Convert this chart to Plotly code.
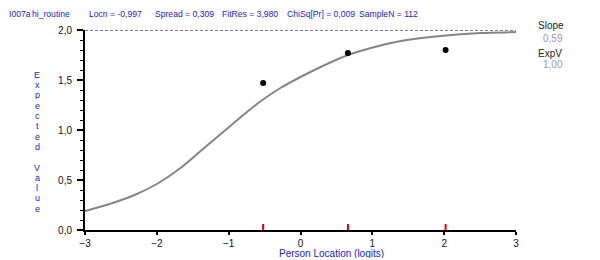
import plotly.graph_objects as go

# ---- data ----
curve_x = [-3.0, -2.66, -2.31, -2.0, -1.67, -1.39, -1.11, -0.83, -0.55, -0.28,
           0.0, 0.28, 0.66, 0.98, 1.40, 1.95, 2.51, 3.0]
curve_y = [0.19, 0.26, 0.35, 0.46, 0.62, 0.79, 0.96, 1.13, 1.29, 1.42,
           1.53, 1.63, 1.75, 1.82, 1.89, 1.94, 1.97, 1.98]
obs_x = [-0.52, 0.66, 2.02]
obs_y = [1.47, 1.77, 1.80]
x_ticks = [-3, -2, -1, 0, 1, 2, 3]
y_ticks = [0.0, 0.5, 1.0, 1.5, 2.0]
max_score = 2.0
header_parts = ["I007a", "hi_routine", "Locn = -0,997", "Spread = 0,309",
                "FitRes = 3,980", "ChiSq[Pr] = 0,009", "SampleN = 112"]
header_px = [8, 31, 88, 154, 221, 286, 358]
side_labels = ["Slope", "0,59", "ExpV", "1,00"]

# page geometry (pixels); the page body adds an 8px offset
OFF = 8
W, H = 600 - OFF, 260 - OFF
PL, PR, PT, PB = 85, 516, 30, 230          # plot area on the page
L, T = PL - OFF, PT - OFF
R, B = W - (PR - OFF), H - (PB - OFF)
pw, ph = W - L - R, H - T - B

def px_x(p):
    return (p - PL) / pw

def px_y(p):
    return (PB - p) / ph

BLUE = "#2323C8"
FONT = "Liberation Sans, Arial"

fig = go.Figure()

# expected value curve
fig.add_trace(go.Scatter(x=curve_x, y=curve_y, mode="lines",
                         line=dict(color="#858585", width=2, shape="spline", smoothing=0.6),
                         hoverinfo="skip", showlegend=False))

# observed means
fig.add_trace(go.Scatter(x=obs_x, y=obs_y, mode="markers",
                         marker=dict(color="black", size=6),
                         showlegend=False))

# red tick markers at class-interval locations
rx, ry = [], []
for xv in obs_x:
    rx += [xv, xv, None]
    ry += [0, 0.06, None]
fig.add_trace(go.Scatter(x=rx, y=ry, mode="lines",
                         line=dict(color="#E00000", width=2),
                         hoverinfo="skip", showlegend=False))

# dashed maximum line
fig.add_shape(type="line", x0=x_ticks[0], x1=x_ticks[-1], y0=max_score, y1=max_score,
              xref="x", yref="y", line=dict(color="black", width=1, dash="3px,2px"))

annotations = []
for txt, p in zip(header_parts, header_px):
    annotations.append(dict(text=txt, x=px_x(p), y=px_y(14), xref="paper", yref="paper",
                            xanchor="left", yanchor="middle", showarrow=False,
                            borderpad=0, height=12,
                            font=dict(family=FONT, size=8.6, color=BLUE)))

# vertical stacked axis title
letters = list("Expected") + [""] + list("Value")
step = 10.3
start = 141.3 - (len(letters) - 1) / 2 * step
for i, ch in enumerate(letters):
    if ch:
        annotations.append(dict(text=ch, x=px_x(37), y=px_y(start + i * step),
                                xref="paper", yref="paper", xanchor="center",
                                yanchor="middle", showarrow=False,
                                borderpad=0, height=9, valign="middle",
                                font=dict(family=FONT, size=9, color=BLUE)))

# x axis title
annotations.append(dict(text="Person Location (logits)", x=px_x(331), y=px_y(253),
                        xref="paper", yref="paper", xanchor="center", yanchor="middle",
                        showarrow=False, borderpad=0, height=10,
                        font=dict(family=FONT, size=10, color=BLUE)))

# side labels
side_pos = [(537, 26, "#222222"), (542, 38, "#9a9a9a"), (537, 53, "#222222"), (542, 64, "#9a9a9a")]
for txt, (px, py, col) in zip(side_labels, side_pos):
    annotations.append(dict(text=txt, x=px_x(px), y=px_y(py), xref="paper", yref="paper",
                            xanchor="left", yanchor="middle", showarrow=False,
                            borderpad=0, height=11,
                            font=dict(family=FONT, size=10, color=col)))

fig.update_layout(
    width=W, height=H,
    margin=dict(l=L, r=R, t=T, b=B, pad=0, autoexpand=False),
    paper_bgcolor="white", plot_bgcolor="white",
    separators=",.",
    font=dict(family=FONT, size=10, color="#111111"),
    annotations=annotations,
    showlegend=False,
)
fig.update_xaxes(range=[x_ticks[0], x_ticks[-1]], tickvals=x_ticks,
                 showgrid=False, zeroline=False, showline=True, linecolor="black",
                 linewidth=2, ticks="outside", ticklen=3, tickwidth=1.5, tickcolor="black",
                 ticklabelstandoff=0,
                 tickfont=dict(family=FONT, size=10, color="#111111"))
fig.update_yaxes(range=[0, max_score], tickvals=y_ticks, tickformat=".1f",
                 showgrid=False, zeroline=False, showline=True, linecolor="black",
                 linewidth=2, ticks="outside", ticklen=6, tickwidth=1.5, tickcolor="black",
                 ticklabelstandoff=3,
                 minor=dict(dtick=0.1, ticks="outside", ticklen=3, tickcolor="black", tickwidth=1),
                 tickfont=dict(family=FONT, size=10, color="#111111"))

fig.write_html("out.html")
